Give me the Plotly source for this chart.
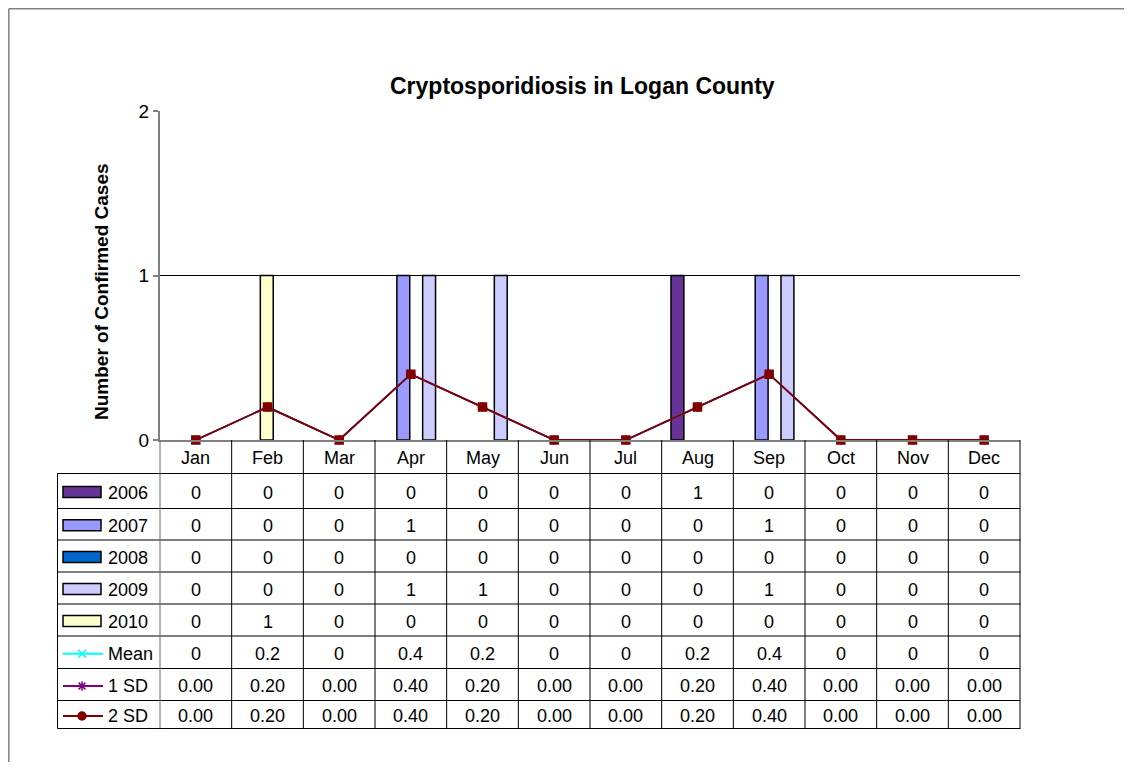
import plotly.graph_objects as go

# ---------------- data ----------------
months = ["Jan", "Feb", "Mar", "Apr", "May", "Jun", "Jul", "Aug", "Sep", "Oct", "Nov", "Dec"]
years = ["2006", "2007", "2008", "2009", "2010"]
cases_2006 = [0, 0, 0, 0, 0, 0, 0, 1, 0, 0, 0, 0]
cases_2007 = [0, 0, 0, 1, 0, 0, 0, 0, 1, 0, 0, 0]
cases_2008 = [0, 0, 0, 0, 0, 0, 0, 0, 0, 0, 0, 0]
cases_2009 = [0, 0, 0, 1, 1, 0, 0, 0, 1, 0, 0, 0]
cases_2010 = [0, 1, 0, 0, 0, 0, 0, 0, 0, 0, 0, 0]
mean_vals = [0, 0.2, 0, 0.4, 0.2, 0, 0, 0.2, 0.4, 0, 0, 0]
sd1_vals = [0.00, 0.20, 0.00, 0.40, 0.20, 0.00, 0.00, 0.20, 0.40, 0.00, 0.00, 0.00]
sd2_vals = [0.00, 0.20, 0.00, 0.40, 0.20, 0.00, 0.00, 0.20, 0.40, 0.00, 0.00, 0.00]
y_ticks = [0, 1, 2]
title = "Cryptosporidiosis in Logan County"
y_title = "Number of Confirmed Cases"

# ---------------- styles ----------------
OFF = 8                      # default page margin around the figure
W, H = 1135 - 2 * OFF, 771 - 2 * OFF
PL, PR, PT, PB = 160, 1020, 111, 440   # target-picture pixel coords
TL = 57.5                               # table left edge
FONT = "Arial, Liberation Sans, sans-serif"
bar_series = [
    ("2006", cases_2006, "#663399", -0.37),
    ("2007", cases_2007, "#9999FF", -0.195),
    ("2008", cases_2008, "#0066CC", -0.015),
    ("2009", cases_2009, "#CCCCFF", 0.165),
    ("2010", cases_2010, "#FFFFCC", -0.10),
]
line_series = [
    ("Mean", mean_vals, "#00FFFF", "x-thin-open", "x-thin-open"),
    ("1 SD", sd1_vals, "#800080", "asterisk-open", "asterisk-open"),
    ("2 SD", sd2_vals, "#800000", "square", "circle"),
]
BW = 0.18
NC = len(months)
CW = (PR - PL) / NC


def px(x):
    return (x - OFF) / W


def py(y):
    return 1 - (y - OFF) / H


fig = go.Figure()
xs = list(range(NC))

for name, vals, col, off in bar_series:
    fig.add_trace(go.Bar(
        x=xs, y=[v if v else None for v in vals], name=name,
        width=BW, offset=off,
        marker=dict(color=col, line=dict(color="#000000", width=1.5)),
        showlegend=False,
    ))

for name, vals, col, sym, _ in line_series:
    fig.add_trace(go.Scatter(
        x=xs, y=vals, name=name, mode="lines+markers",
        line=dict(color=col, width=1.8),
        marker=dict(symbol=sym, size=8, color=col, line=dict(color=col, width=1.5)),
        showlegend=False, cliponaxis=False,
    ))

# ---------------- table geometry ----------------
row_bounds = [473.5, 508.5, 540, 572, 604, 636, 668.5, 700.5, 728.5]
row_labels = years + [s[0] for s in line_series]
row_text = []
for _, vals, _, _ in bar_series:
    row_text.append([str(v) for v in vals])
row_text.append([("%g" % v) for v in mean_vals])
row_text.append([("%.2f" % v) for v in sd1_vals])
row_text.append([("%.2f" % v) for v in sd2_vals])

shapes = []
annotations = []
LINE = dict(color="#000000", width=1)
GLINE = dict(color="#666666", width=1)
TFONT = dict(size=18, family=FONT, color="#000")
BORDER = dict(color="#808080", width=1.5)

# outer chart border: only top and left edges are inside the picture
shapes.append(dict(type="line", xref="paper", yref="paper",
                   x0=px(8.8), x1=px(1124), y0=py(8.8), y1=py(8.8), line=BORDER))
shapes.append(dict(type="line", xref="paper", yref="paper",
                   x0=px(8.8), x1=px(8.8), y0=py(762), y1=py(8.8), line=BORDER))

# horizontal table lines
for b in row_bounds:
    shapes.append(dict(type="line", xref="paper", yref="paper",
                       x0=px(TL), x1=px(PR + 0.5), y0=py(b), y1=py(b), line=LINE))
# vertical lines
shapes.append(dict(type="line", xref="paper", yref="paper",
                   x0=px(TL), x1=px(TL), y0=py(row_bounds[0]), y1=py(row_bounds[-1]), line=LINE))
for i in range(NC + 1):
    xb = PL + CW * i
    shapes.append(dict(type="line", xref="paper", yref="paper",
                       x0=px(xb), x1=px(xb), y0=py(PB), y1=py(row_bounds[-1]),
                       line=GLINE if i == 0 else LINE))

# month headers
for i, m in enumerate(months):
    annotations.append(dict(x=i, xref="x", y=py(458), yref="paper", text=m,
                            showarrow=False, font=TFONT,
                            xanchor="center", yanchor="middle"))

# table cells + legend keys
key_x, key_y, key_sym, key_col = [], [], [], []
for r in range(len(row_labels)):
    yc = (row_bounds[r] + row_bounds[r + 1]) / 2 + 1.5
    for i in range(NC):
        annotations.append(dict(x=i, xref="x", y=py(yc), yref="paper", text=row_text[r][i],
                                showarrow=False, font=TFONT,
                                xanchor="center", yanchor="middle"))
    annotations.append(dict(x=px(106), xref="paper", y=py(yc), yref="paper", text=row_labels[r],
                            showarrow=False, font=TFONT,
                            xanchor="left", yanchor="middle"))
    if r < len(bar_series):
        col = bar_series[r][2]
        shapes.append(dict(type="rect", xref="paper", yref="paper",
                           x0=px(63), x1=px(101), y0=py(yc + 5), y1=py(yc - 6),
                           fillcolor=col, line=dict(color="#000", width=1.5)))
    else:
        ls = line_series[r - len(bar_series)]
        shapes.append(dict(type="line", xref="paper", yref="paper",
                           x0=px(63), x1=px(103), y0=py(yc), y1=py(yc),
                           line=dict(color=ls[2], width=1.8)))
        key_x.append(82)
        key_y.append(yc)
        key_sym.append(ls[4])
        key_col.append(ls[2])

# legend-key markers on a helper subplot that covers the table's key column
fig.add_trace(go.Scatter(
    x=key_x, y=key_y, xaxis="x2", yaxis="y2", mode="markers", cliponaxis=False,
    marker=dict(symbol=key_sym, size=8, color=key_col, line=dict(color=key_col, width=1.5)),
    showlegend=False, hoverinfo="skip",
))

# title + y-axis title
annotations.append(dict(x=px(582), y=py(86), xref="paper", yref="paper",
                        text="<b>%s</b>" % title, showarrow=False,
                        font=dict(size=23, family=FONT, color="#000"),
                        xanchor="center", yanchor="middle"))
annotations.append(dict(x=px(101), y=py(292), xref="paper", yref="paper",
                        text="<b>%s</b>" % y_title, showarrow=False, textangle=-90,
                        font=dict(size=19, family=FONT, color="#000"),
                        xanchor="center", yanchor="middle"))

fig.update_layout(
    width=W, height=H,
    margin=dict(l=0, r=0, t=0, b=0, autoexpand=False),
    paper_bgcolor="white", plot_bgcolor="rgba(0,0,0,0)",
    barmode="overlay",
    showlegend=False,
    xaxis=dict(domain=[px(PL), px(PR)], range=[-0.5, NC - 0.5],
               showgrid=False, zeroline=False, showticklabels=False, ticks="",
               showline=True, linecolor="#808080", linewidth=2, fixedrange=True),
    yaxis=dict(domain=[py(PB), py(PT)], range=[0, 2], tickvals=y_ticks,
               ticktext=[str(t) for t in y_ticks],
               showgrid=True, gridcolor="#000000", gridwidth=1, zeroline=False,
               showline=True, linecolor="#808080", linewidth=2,
               ticks="outside", ticklen=5, tickcolor="#808080", tickwidth=1.5,
               tickfont=dict(size=19, family=FONT, color="#000"), fixedrange=True),
    xaxis2=dict(domain=[px(TL), px(PL)], range=[TL, PL], visible=False,
                anchor="y2", fixedrange=True),
    yaxis2=dict(domain=[py(row_bounds[-1]), py(row_bounds[0])],
                range=[row_bounds[-1], row_bounds[0]], visible=False,
                anchor="x2", fixedrange=True),
    shapes=shapes,
    annotations=annotations,
)

fig.write_html("out.html")
